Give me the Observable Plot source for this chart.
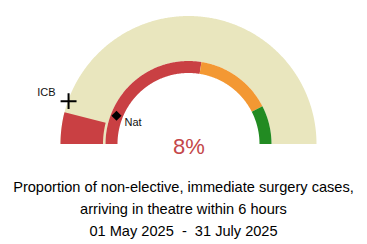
<!DOCTYPE html>
<html><head><meta charset="utf-8">
<script src="https://cdn.jsdelivr.net/npm/d3@7"></script>
<script src="https://cdn.jsdelivr.net/npm/@observablehq/plot@0.6"></script>
<style>
body{margin:0;background:#fff;font-family:"Liberation Sans",Arial,sans-serif}
#cap{text-align:center;font-size:14.6px;line-height:22px;color:#000;white-space:pre;margin-top:6px}
</style>
</head><body><div id="chart"></div><div id="cap"></div>
<script>
// ---- data ----
const value = 8;          // % shown in centre
const icbValue = 11;      // ICB marker (+) on outer arc
const natValue = 12;      // National marker (diamond) on inner arc
const bandNames = ["red", "amber", "green"];
const bandStarts = [0, 55, 85];
const bandEnds = [55, 85, 100];
const bandColors = ["#C94043", "#F39833", "#228B22"];
const valueLabel = "8%";
const markerLabels = ["ICB", "Nat"];
const captionLines = [
  "Proportion of non-elective, immediate surgery cases,",
  "arriving in theatre within 6 hours",
  "01 May 2025  -  31 July 2025"
];

// ---- geometry helpers (percent -> polar) ----
const R_OUT = 128, R_BG_IN = 83, R_FILL_IN = 85.5, R_BAND_OUT = 83, R_BAND_IN = 71;
const ang = p => Math.PI * (1 - p / 100);
function arcRows(key, p0, p1, rIn, rOut) {
  const rows = [];
  const n = Math.max(2, Math.ceil((p1 - p0) / 0.25));
  for (let i = 0; i <= n; i++) {
    const p = p0 + (p1 - p0) * i / n, a = ang(p);
    rows.push({key, x1: rOut * Math.cos(a), y1: rOut * Math.sin(a), x2: rIn * Math.cos(a), y2: rIn * Math.sin(a)});
  }
  return rows;
}
const bgRows = arcRows("bg", 0, 100, R_BG_IN, R_OUT);
const fillRows = arcRows("fill", 0, value, R_FILL_IN, R_OUT);
const bandRows = bandNames.flatMap((k, i) => arcRows(k, bandStarts[i], bandEnds[i], R_BAND_IN, R_BAND_OUT));
const markers = [
  {label: markerLabels[0], p: icbValue, r: R_OUT},
  {label: markerLabels[1], p: natValue, r: (R_BAND_IN + R_BAND_OUT) / 2 + 1}
].map(d => ({...d, x: d.r * Math.cos(ang(d.p)), y: d.r * Math.sin(ang(d.p))}));

const chart = Plot.plot({
  width: 367, height: 170, margin: 0,
  style: {fontFamily: "Liberation Sans, Arial, sans-serif"},
  x: {domain: [-188.5, 178.5], axis: null},
  y: {domain: [-26, 144], axis: null},
  color: {domain: bandNames, range: bandColors},
  marks: [
    Plot.area(bgRows, {x1: "x1", y1: "y1", x2: "x2", y2: "y2", fill: "#E9E6BE"}),
    Plot.area(fillRows, {x1: "x1", y1: "y1", x2: "x2", y2: "y2", fill: "#C94043"}),
    Plot.area(bandRows, {x1: "x1", y1: "y1", x2: "x2", y2: "y2", z: "key", fill: "key"}),
    Plot.dot(markers.slice(0, 1), {x: "x", y: "y", symbol: "plus", r: 5.2, stroke: "#000", strokeWidth: 2}),
    Plot.dot(markers.slice(1), {x: "x", y: "y", symbol: "square", r: 4, rotate: 45, fill: "#000"}),
    Plot.text(markers.slice(0, 1), {x: "x", y: "y", text: "label", textAnchor: "end", dx: -13, dy: -9, fontSize: 11, fill: "#111"}),
    Plot.text(markers.slice(1), {x: "x", y: "y", text: "label", textAnchor: "start", dx: 8, dy: 7, fontSize: 11, fill: "#111"}),
    Plot.text([valueLabel], {x: () => 0, y: () => 0, text: d => d, fontSize: 22, dy: 2, fill: "#C4474A"})
  ]
});
document.getElementById("chart").append(chart);
document.getElementById("cap").textContent = captionLines.join("\n");
</script>
</body></html>
